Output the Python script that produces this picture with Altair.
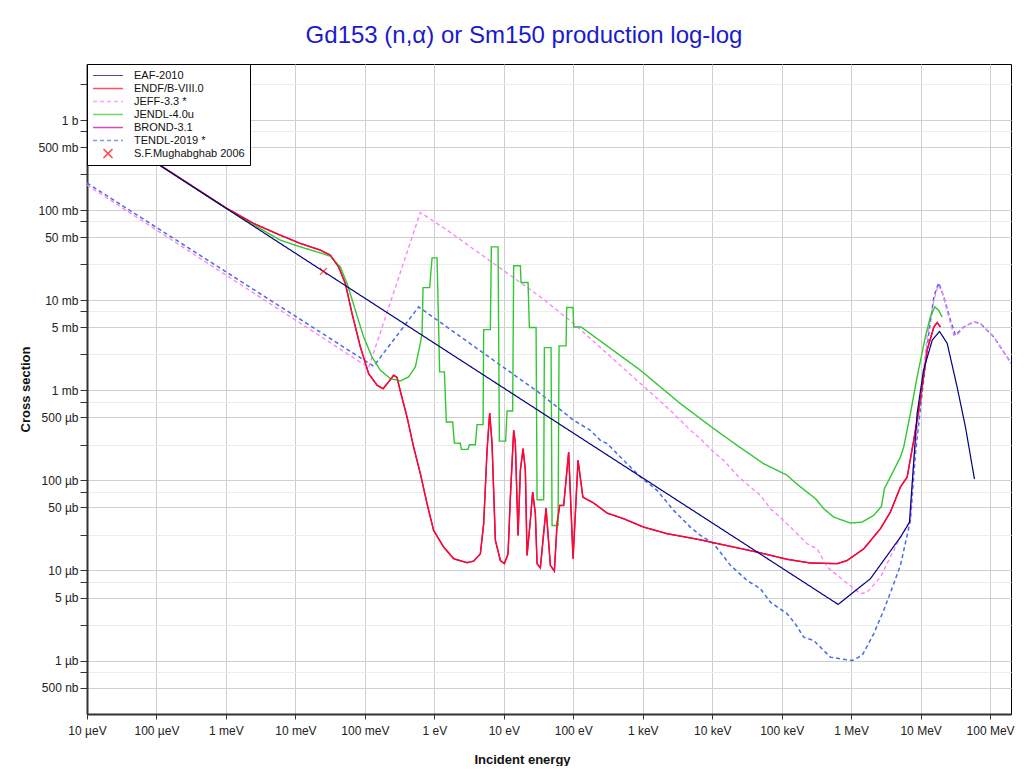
import altair as alt
import pandas as pd

# ---------------- data (energy in eV, cross section in barns) ----------------
SERIES = ["EAF-2010", "ENDF/B-VIII.0", "JEFF-3.3 *", "JENDL-4.0u", "BROND-3.1",
          "TENDL-2019 *", "S.F.Mughabghab 2006"]
COLORS = ["#000080", "#ff0a1e", "#ff80ff", "#33c633", "#cc0099", "#4a6fe3", "#ff0000"]
DASHES = [[1, 0], [1, 0], [4, 3], [1, 0], [1, 0], [4, 3], [1, 0]]
WIDTHS = [1.2, 1.6, 1.0, 1.1, 1.6, 1.0, 1.0]
XMARK = "M-0.3,-0.3L0.3,0.3M-0.3,0.3L0.3,-0.3"
SHAPES = ["stroke", "stroke", "stroke", "stroke", "stroke", "stroke", XMARK]

EAF_E = [1e-5, 0.0253, 6.5e5, 1.89e6, 5.12e6, 6.90e6, 8.91e6, 1.10e7, 1.47e7,
         1.87e7, 2.41e7, 3.35e7, 4.42e7, 5.96e7]
EAF_XS = [1.05, 0.0209, 4.2e-6, 8.09e-6, 2.34e-5, 3.41e-5, 5.55e-4, 1.67e-3, 3.6e-3,
          4.5e-3, 3.33e-3, 1.09e-3, 3.91e-4, 1.03e-4]

ENDF_E = [1e-5, 1e-4, 1e-3, 2.50e-3, 6.07e-3, 0.01178, 0.02285, 0.03184, 0.0419, 0.0523,
          0.0654, 0.0861, 0.1133, 0.1496, 0.1826, 0.2198, 0.2596, 0.2904, 0.3241, 0.4045,
          0.5036, 0.6288, 0.7852, 0.977, 1.361, 1.897, 2.958, 3.681, 4.596, 5.13,
          5.74, 6.26, 6.77, 7.56, 8.92, 10.18, 11.51, 12.43, 13.87, 14.67,
          16.04, 17.31, 18.93, 20.43, 21.61, 24.11, 26.02, 28.46, 30.11, 33.59,
          40.58, 46.78, 53.44, 58.45, 63.68, 72.7, 85.8, 99.3, 117.2, 137.4,
          196.6, 306.5, 531.6, 1031, 2240, 6760, 1.05e4, 4.43e4, 1.20e5, 2.59e5,
          6.28e5, 8.75e5, 1.52e6, 2.64e6, 3.67e6, 5.12e6, 6.40e6, 7.96e6, 9.93e6, 1.24e7,
          1.55e7, 1.73e7, 1.93e7]
ENDF_XS = [1.06, 0.335, 0.106, 0.0711, 0.0527, 0.0427, 0.0360, 0.0316, 0.0234, 0.01534,
           7.11e-3, 3.03e-3, 1.53e-3, 1.14e-3, 1.04e-3, 1.24e-3, 1.47e-3, 1.39e-3, 9.75e-4, 5.05e-4,
           2.34e-4, 1.19e-4, 5.51e-5, 2.78e-5, 1.82e-5, 1.35e-5, 1.22e-5, 1.27e-5, 1.53e-5, 3.30e-5,
           2.16e-4, 5.6e-4, 2.56e-4, 2.16e-5, 1.29e-5, 1.19e-5, 1.53e-5, 6.52e-5, 3.6e-4, 2.56e-4,
           2.45e-5, 1.29e-4, 2.25e-4, 1.29e-4, 1.47e-5, 3.6e-5, 7.42e-5, 4.27e-5, 1.19e-5, 1.07e-5,
           4.92e-5, 1.14e-5, 9.83e-6, 3.3e-5, 5.27e-5, 5.27e-5, 2.06e-4, 1.35e-5, 1.67e-4, 6.52e-5,
           5.6e-5, 4.34e-5, 3.75e-5, 3.03e-5, 2.56e-5, 2.19e-5, 2.03e-5, 1.60e-5, 1.33e-5, 1.21e-5,
           1.19e-5, 1.29e-5, 1.74e-5, 2.91e-5, 4.45e-5, 8.43e-5, 1.09e-4, 2.78e-4, 7.74e-4, 2.78e-3,
           5.05e-3, 5.65e-3, 5.05e-3]

BROND_E = list(ENDF_E)
BROND_XS = list(ENDF_XS)

JEFF_E = [1e-5, 0.1133, 0.6288, 1.524, 33.59, 101.3, 306.5, 925, 1437, 2788,
          4850, 6760, 1.05e4, 1.46e4, 2.41e4, 3.55e4, 4.94e4, 6.88e4, 1.07e5, 1.67e5,
          2.32e5, 3.24e5, 4.51e5, 7.82e5, 1.36e6, 1.70e6, 2.64e6, 3.67e6, 5.12e6, 7.13e6,
          7.96e6, 9.93e6, 1.24e7, 1.55e7, 1.79e7, 2.04e7, 2.54e7, 3.00e7, 3.35e7, 4.17e7,
          5.81e7, 7.26e7, 1.13e8, 1.96e8, 2.0e8]
JEFF_XS = [0.19, 1.79e-3, 0.0943, 0.060, 0.0109, 5.51e-3, 2.56e-3, 1.19e-3, 8.80e-4, 5.51e-4,
           3.6e-4, 2.9e-4, 2.06e-4, 1.67e-4, 1.09e-4, 8.43e-5, 6.81e-5, 4.85e-5, 3.59e-5, 2.56e-5,
           1.98e-5, 1.74e-5, 1.09e-5, 7.74e-6, 5.51e-6, 5.74e-6, 8.43e-6, 1.41e-5, 2.34e-5, 3.59e-5,
           1.67e-4, 7.74e-4, 3.91e-3, 0.0100, 0.0147, 0.0124, 6.52e-3, 4.08e-3, 4.08e-3, 5.05e-3,
           5.74e-3, 5.51e-3, 3.91e-3, 2.06e-3, 2.0e-3]

JENDL_E = [1e-5, 1e-4, 1e-3, 2.50e-3, 6.07e-3, 0.01178, 0.02285, 0.03184, 0.0443, 0.0554,
           0.0729, 0.0960, 0.1268, 0.167, 0.2327, 0.3241, 0.4267, 0.5328, 0.6288, 0.6653,
           0.688, 0.856, 0.927, 1.094, 1.192, 1.394, 1.489, 1.835, 1.942, 2.369,
           2.448, 3.057, 3.192, 3.894, 4.12, 5.03, 5.13, 6.40, 6.62, 8.27,
           8.63, 10.63, 11.14, 13.41, 13.87, 17.31, 17.72, 22.34, 23.33, 29.13,
           30.11, 37.48, 38.36, 47.87, 49.50, 60.39, 62.42, 78.77, 80.36, 99.3,
           101.3, 129.5, 925, 3480, 6760, 1.05e4, 2.28e4, 5.51e4, 1.20e5, 1.49e5,
           2.32e5, 3.06e5, 4.03e5, 5.61e5, 9.76e5, 1.44e6, 2.11e6, 2.73e6, 3.01e6, 3.89e6,
           5.12e6, 5.71e6, 7.13e6, 8.91e6, 1.17e7, 1.38e7, 1.60e7, 1.82e7, 2.04e7]
JENDL_XS = [1.05, 0.332, 0.105, 0.069, 0.0464, 0.0391, 0.0335, 0.0308, 0.0234, 0.01534,
            7.74e-3, 3.91e-3, 2.34e-3, 1.67e-3, 1.35e-3, 1.27e-3, 1.41e-3, 1.82e-3, 3.33e-3, 4.27e-3,
            0.0138, 0.0138, 0.0295, 0.0295, 1.60e-3, 1.60e-3, 4.45e-4, 4.45e-4, 2.60e-4, 2.58e-4,
            2.21e-4, 2.21e-4, 2.49e-4, 2.49e-4, 4.16e-4, 4.16e-4, 4.72e-3, 4.72e-3, 0.0391, 0.0391,
            2.73e-4, 2.73e-4, 5.89e-4, 5.89e-4, 0.0241, 0.0241, 0.0157, 0.0157, 4.97e-3, 4.97e-3,
            6.10e-5, 6.10e-5, 2.98e-3, 2.98e-3, 3.16e-5, 3.16e-5, 3.11e-3, 3.11e-3, 8.30e-3, 8.30e-3,
            5.05e-3, 5.05e-3, 1.67e-3, 7.11e-4, 4.85e-4, 3.75e-4, 2.45e-4, 1.53e-4, 1.14e-4, 9.75e-5,
            7.41e-5, 6.27e-5, 4.85e-5, 3.91e-5, 3.36e-5, 3.44e-5, 4.08e-5, 5.14e-5, 8.09e-5, 1.19e-4,
            1.82e-4, 2.34e-4, 5.51e-4, 1.41e-3, 3.91e-3, 6.52e-3, 8.43e-3, 7.74e-3, 6.52e-3]

TENDL_E = [1e-5, 0.1337, 0.5944, 33.59, 101.3, 176.2, 245.5, 306.5, 531.6,
           925, 1608, 2788, 4850, 6760, 1.05e4, 1.83e4, 3.18e4, 4.94e4, 6.88e4,
           1.20e5, 1.57e5, 2.07e5, 2.89e5, 5.03e5, 1.03e6, 1.44e6, 2.11e6, 2.94e6, 4.10e6,
           5.12e6, 7.13e6, 8.41e6, 1.05e7, 1.31e7, 1.55e7, 1.82e7, 2.15e7, 2.69e7, 3.17e7,
           4.17e7, 5.81e7, 7.26e7, 1.13e8, 1.96e8, 2.0e8]
TENDL_XS = [0.2, 1.85e-3, 8.43e-3, 9.19e-4, 4.64e-4, 3.6e-4, 2.78e-4, 2.56e-4, 1.67e-4,
            1.09e-4, 7.74e-5, 4.64e-5, 3.03e-5, 2.45e-5, 1.98e-5, 1.14e-5, 7.74e-6, 6.26e-6, 4.45e-6,
            3.3e-6, 2.56e-6, 1.82e-6, 1.67e-6, 1.09e-6, 1.0e-6, 1.14e-6, 1.98e-6, 3.6e-6, 7.11e-6,
            1.14e-5, 3.59e-5, 1.98e-4, 9.19e-4, 4.27e-3, 0.0109, 0.0156, 0.0109, 6.0e-3, 4.08e-3,
            5.05e-3, 5.74e-3, 5.51e-3, 3.91e-3, 2.06e-3, 2.0e-3]

MUGH_E = [0.0253]
MUGH_XS = [0.0209]

X_TICKS = [1e-5, 1e-4, 1e-3, 1e-2, 1e-1, 1, 10, 100, 1e3, 1e4, 1e5, 1e6, 1e7, 1e8]
X_LABELS = ["10 µeV", "100 µeV", "1 meV", "10 meV", "100 meV", "1 eV", "10 eV", "100 eV",
            "1 keV", "10 keV", "100 keV", "1 MeV", "10 MeV", "100 MeV"]
Y_TICKS = [2.5e-7, 5e-7, 7.5e-7, 1e-6, 2.5e-6, 5e-6, 7.5e-6, 1e-5, 2.5e-5, 5e-5, 7.5e-5,
           1e-4, 2.5e-4, 5e-4, 7.5e-4, 1e-3, 2.5e-3, 5e-3, 7.5e-3, 1e-2, 2.5e-2, 5e-2, 7.5e-2,
           0.1, 0.25, 0.5, 0.75, 1.0, 2.5]
Y_LABELS = ["", "500 nb", "", "1 µb", "", "5 µb", "", "10 µb", "", "50 µb", "",
            "100 µb", "", "500 µb", "", "1 mb", "", "5 mb", "", "10 mb", "", "50 mb", "",
            "100 mb", "", "500 mb", "", "1 b", ""]

X_DOMAIN = [1e-5, 2e8]
Y_DOMAIN = [2.55e-7, 4.19]

# ---------------- table ----------------
line_sets = [("BROND-3.1", BROND_E, BROND_XS), ("TENDL-2019 *", TENDL_E, TENDL_XS),
             ("JEFF-3.3 *", JEFF_E, JEFF_XS), ("JENDL-4.0u", JENDL_E, JENDL_XS),
             ("ENDF/B-VIII.0", ENDF_E, ENDF_XS), ("EAF-2010", EAF_E, EAF_XS)]
rows = []
for name, es, xs in line_sets:
    for e, s in zip(es, xs):
        rows.append({"series": name, "energy": e, "xs": s})
lines_df = pd.DataFrame(rows)
pts_df = pd.DataFrame({"series": ["S.F.Mughabghab 2006"] * len(MUGH_E),
                       "energy": MUGH_E, "xs": MUGH_XS})


def label_expr(values, labels):
    parts = []
    for v, lab in zip(values, labels):
        if lab:
            parts.append(f"abs(datum.value - {v!r}) < {v * 1e-3!r} ? '{lab}' : ")
    return "".join(parts) + "''"


FONT = "Liberation Sans"
major_test = ("abs(datum.value / pow(10, floor(log(datum.value) / LN10 + 1e-9)) - 1) < 0.01 || "
              "abs(datum.value / pow(10, floor(log(datum.value) / LN10 + 1e-9)) - 5) < 0.01")

x_axis = alt.Axis(values=X_TICKS, labelExpr=label_expr(X_TICKS, X_LABELS),
                  title="Incident energy", titleX=435, titleY=49,
                  titleBaseline="alphabetic", titleAnchor="start", titleAlign="center",
                  tickSize=5, labelPadding=6, gridColor="#cfcfcf", labelFlush=False,
                  labelOverlap=False)
y_axis = alt.Axis(values=Y_TICKS, labelExpr=label_expr(Y_TICKS, Y_LABELS),
                  title="Cross section", titleX=-62, titleY=325, titleAngle=270,
                  titleAlign="center", titleBaseline="middle",
                  tickSize=7, labelPadding=2, labelFlush=False, labelOverlap=False,
                  gridColor={"condition": {"test": major_test, "value": "#cfcfcf"},
                             "value": "#ececec"})

LEG = alt.Legend(title=None, orient="top-left", offset=0, strokeColor="black",
                 fillColor="white", padding=5, symbolSize=900, clipHeight=13,
                 rowPadding=0, labelFontSize=11, labelFont=FONT, labelColor="#111",
                 symbolStrokeWidth=2, labelOffset=10, cornerRadius=0)

xenc = alt.X("energy:Q", scale=alt.Scale(type="log", domain=X_DOMAIN, nice=False), axis=x_axis)
yenc = alt.Y("xs:Q", scale=alt.Scale(type="log", domain=Y_DOMAIN, nice=False), axis=y_axis)
cenc = alt.Color("series:N", scale=alt.Scale(domain=SERIES, range=COLORS), legend=LEG)

lines = alt.Chart(lines_df).mark_line(clip=True).encode(
    x=xenc, y=yenc, color=cenc,
    strokeDash=alt.StrokeDash("series:N", scale=alt.Scale(domain=SERIES, range=DASHES), legend=LEG),
    strokeWidth=alt.StrokeWidth("series:N", scale=alt.Scale(domain=SERIES, range=WIDTHS), legend=None),
    detail="series:N",
)

points = alt.Chart(pts_df).mark_point(filled=False, size=550, strokeWidth=1.2, clip=True).encode(
    x=xenc, y=yenc, color=cenc,
    shape=alt.Shape("series:N", scale=alt.Scale(domain=SERIES, range=SHAPES), legend=LEG),
)

chart = alt.layer(lines, points).properties(
    width=924, height=650,
    autosize=alt.AutoSizeParams(type="none"),
    padding={"left": 79, "top": 56, "right": 5, "bottom": 52},
    title=alt.TitleParams("Gd153 (n,α) or Sm150 production log-log", anchor="middle",
                          dx=-25, offset=-3, baseline="alphabetic", fontSize=24,
                          font=FONT, fontWeight="normal", color="#1a1acc"),
).configure(font=FONT).configure_view(
    stroke="black", strokeWidth=1
).configure_axis(
    labelFont=FONT, labelFontSize=12, labelColor="#222", titleFont=FONT,
    titleFontSize=13, titleFontWeight="bold", titleColor="#111",
    domainColor="#333", domainWidth=2, tickColor="#333", tickWidth=1,
    gridWidth=1,
)

chart.save("out.html", embed_options={"renderer": "svg", "actions": False})
